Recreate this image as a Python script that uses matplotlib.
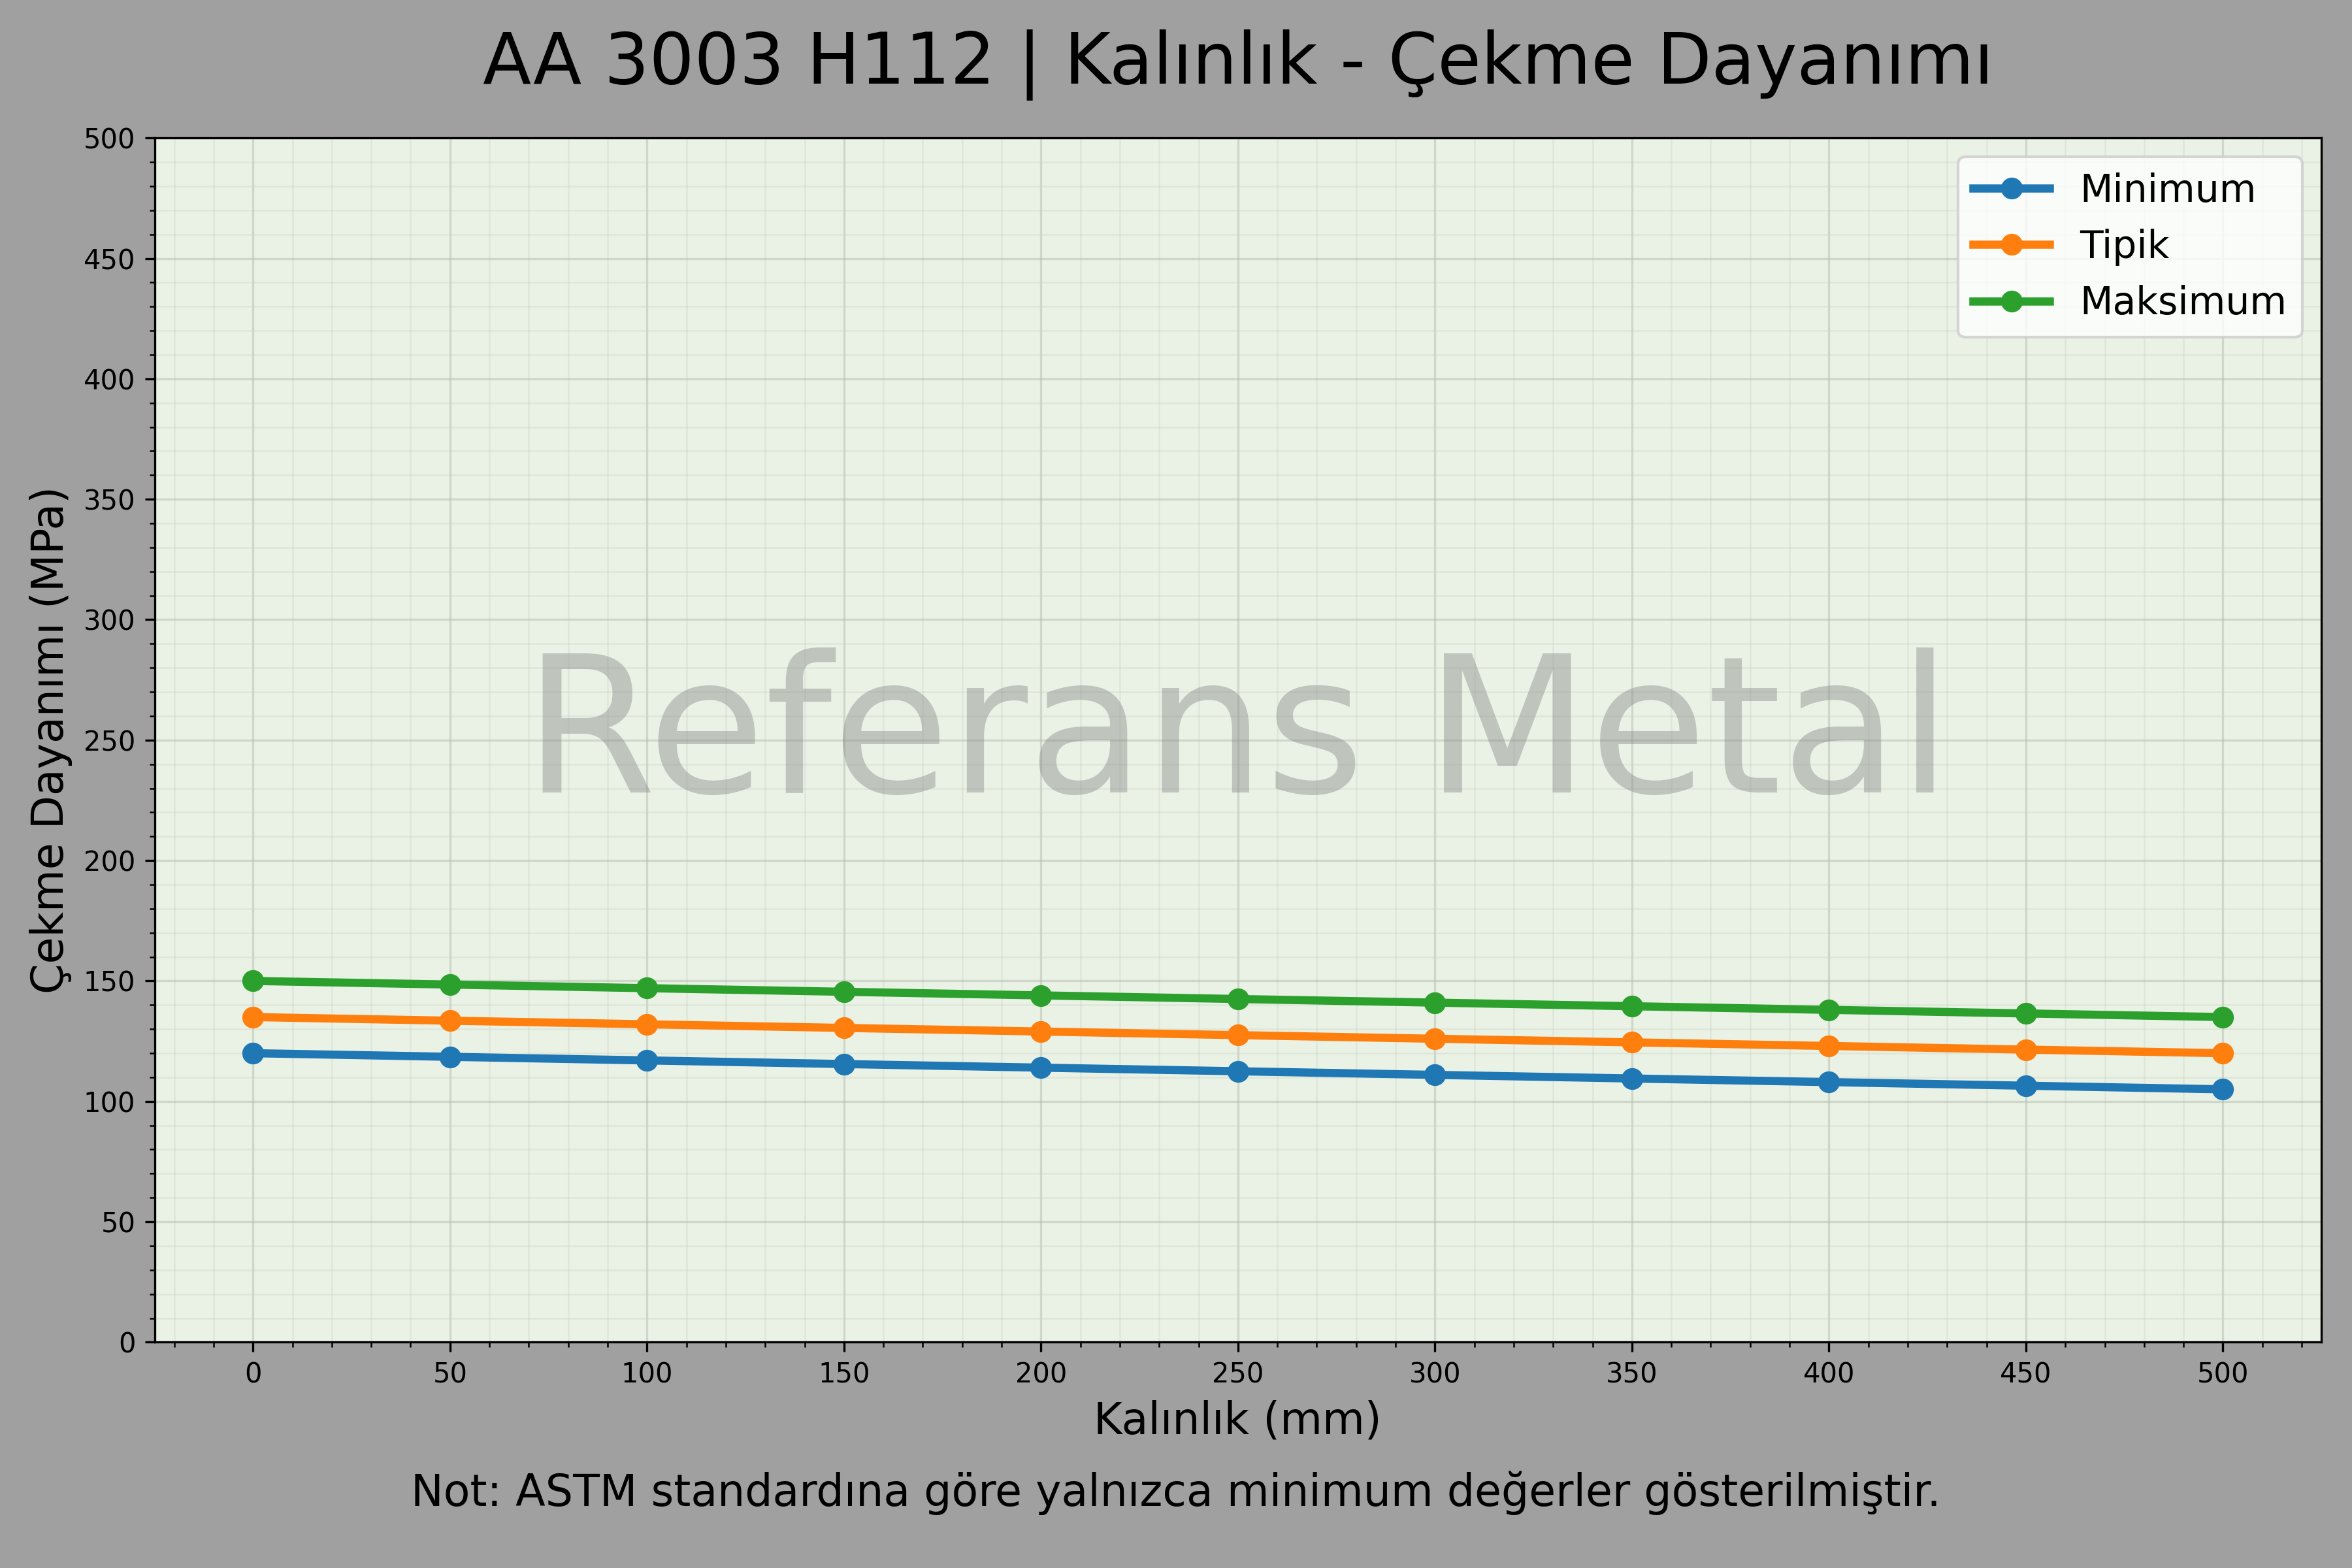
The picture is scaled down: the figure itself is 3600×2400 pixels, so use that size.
"""AA 3003 H112 thickness vs tensile strength chart."""

import matplotlib

matplotlib.use("Agg")

import matplotlib.pyplot as plt  # noqa: E402
from matplotlib.ticker import MultipleLocator  # noqa: E402

# ---------------------------------------------------------------------------
# Data
# ---------------------------------------------------------------------------

thickness_mm = [0, 50, 100, 150, 200, 250, 300, 350, 400, 450, 500]
minimum_mpa = [120, 118.5, 117, 115.5, 114, 112.5, 111, 109.5, 108, 106.5, 105]
typical_mpa = [135, 133.5, 132, 130.5, 129, 127.5, 126, 124.5, 123, 121.5, 120]
maximum_mpa = [150, 148.5, 147, 145.5, 144, 142.5, 141, 139.5, 138, 136.5, 135]

series = [
    ("Minimum", minimum_mpa, "#1f77b4"),
    ("Tipik", typical_mpa, "#ff7f0e"),
    ("Maksimum", maximum_mpa, "#2ca02c"),
]

# ---------------------------------------------------------------------------
# Figure
# ---------------------------------------------------------------------------

fig = plt.figure(figsize=(12, 8), dpi=300, facecolor="#a0a0a0")
ax = fig.add_axes([0.0657, 0.144, 0.9213, 0.768])
ax.set_facecolor("#eaf2e6")

for name, values, color in series:
    ax.plot(thickness_mm, values, marker="o", color=color, linewidth=3,
            markersize=7, label=name)

ax.set_ylim(0, 500)
ax.xaxis.set_major_locator(MultipleLocator(50))
ax.xaxis.set_minor_locator(MultipleLocator(10))
ax.yaxis.set_major_locator(MultipleLocator(50))
ax.yaxis.set_minor_locator(MultipleLocator(10))
ax.grid(True, which="major", color="#b0b8ac", alpha=0.45, linewidth=0.8)
ax.grid(True, which="minor", color="#c8d0c4", alpha=0.35, linewidth=0.6)
ax.tick_params(labelsize=10)

ax.set_xlabel("Kalınlık (mm)", fontsize=16)
ax.set_ylabel("Çekme Dayanımı (MPa)", fontsize=16)
ax.set_title("AA 3003 H112 | Kalınlık - Çekme Dayanımı", fontsize=26, pad=20)

ax.text(0.5, 0.5, "Referans Metal", transform=ax.transAxes, fontsize=70,
        color="gray", alpha=0.4, ha="center", va="center")

ax.legend(loc="upper right", fontsize=14)

fig.text(0.5, 0.048, "Not: ASTM standardına göre yalnızca minimum değerler gösterilmiştir.",
         ha="center", va="center", fontsize=16)

fig.savefig("out.png", dpi=300, facecolor=fig.get_facecolor())
